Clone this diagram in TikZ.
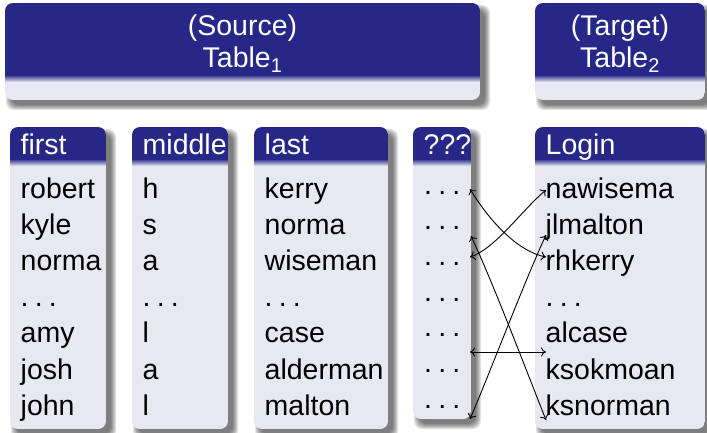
\documentclass[tikz,border=0pt]{standalone}
\usepackage{fontspec}
\setmainfont{Liberation Sans}
\usetikzlibrary{arrows.meta}
\definecolor{bhead}{RGB}{39,39,135}
\definecolor{bbody}{RGB}{232,232,243}
\newcommand\mkshadow[4]{%
  \foreach \e in {0,1,2,3,4,5}{%
    \fill[black,opacity=0.11,rounded corners=8] ({#1+6-\e},{#2+7-\e}) rectangle ({#3+5+\e},{#4+5+\e});
  }}
\newcommand\mkblock[5]{%
  \mkshadow{#1}{#2}{#3}{#4}
  \begin{scope}
    \clip[rounded corners=8] (#1,#2) rectangle (#3,#4);
    \fill[bbody] (#1,#2) rectangle (#3,#4);
    \fill[bhead] (#1,#2) rectangle (#3,#5);
    \shade[top color=bhead!70!bbody, bottom color=bbody] (#1,#5) rectangle (#3,{#5+5});
  \end{scope}}
\newcommand\sdots{.\kern6.2pt.\kern6.2pt.}
\tikzset{
  txt/.style={anchor=base west, inner sep=0pt, font=\fontsize{28.5}{34}\selectfont},
  hdr/.style={txt, text=white},
  ttl/.style={anchor=base, inner sep=0pt, text=white, font=\fontsize{28.5}{34}\selectfont},
  arr/.style={line width=0.9pt, {Computer Modern Rightarrow[length=5pt,width=9pt]}-{Computer Modern Rightarrow[length=5pt,width=9pt]}}
}
\begin{document}
\begin{tikzpicture}[x=1pt,y=-1pt]
\useasboundingbox (0,0) rectangle (707,433);
% top blocks
\mkblock{5}{3}{480}{100}{77}
\mkblock{535}{3}{705}{100}{77}
\node[ttl] (src1) at (242.5,35.5) {(Source)};
\node[ttl] (src2) at (242.5,67.5) {Table\textsubscript{1}};
\node[ttl] (tgt1) at (620,35.5) {(Target)};
\node[ttl] (tgt2) at (620,67.5) {Table\textsubscript{2}};
% columns
\mkblock{10}{127}{106}{429}{161}
\mkblock{132}{127}{228}{429}{161}
\mkblock{254}{127}{388}{429}{161}
\mkblock{413}{127}{471}{419}{161}
\mkblock{535}{127}{705}{429}{161}
\node[hdr] (hfirst) at (20.5,155) {first};
\node[hdr] (hmiddle) at (142.5,155) {middle};
\node[hdr] (hlast) at (264.5,155) {last};
\node[hdr] (hq) at (423.5,155) {???};
\node[hdr] (hlogin) at (545.5,155) {Login};
\foreach \t [count=\i] in {robert,kyle,norma,{\sdots},amy,josh,john}
  \node[txt] (f\i) at (20.5,{198+36.2*(\i-1)}) {\t};
\foreach \t [count=\i] in {h,s,a,{\sdots},l,a,l}
  \node[txt] (m\i) at (142.5,{198+36.2*(\i-1)}) {\t};
\foreach \t [count=\i] in {kerry,norma,wiseman,{\sdots},case,alderman,malton}
  \node[txt] (l\i) at (264.5,{198+36.2*(\i-1)}) {\t};
\foreach \i in {1,...,7}
  \node[txt] (d\i) at (424,{194+35.7*(\i-1)}) {\sdots};
\foreach \t [count=\i] in {nawisema,jlmalton,rhkerry,{\sdots},alcase,ksokmoan,ksnorman}
  \node[txt] (g\i) at (545.5,{198+36.2*(\i-1)}) {\t};
% arrow ends
\coordinate (q1) at (470,189);
\coordinate (q2) at (471,236);
\coordinate (q3) at (470,257);
\coordinate (q5) at (470,352);
\coordinate (q7) at (470,419);
\coordinate (t1) at (546,190);
\coordinate (t2) at (546,235);
\coordinate (t3) at (546,257);
\coordinate (t5) at (546,352);
\coordinate (t7) at (546,420);
\draw[arr] (q1) .. controls (492,225) and (520,252) .. (t3);
\draw[arr] (q3) .. controls (495,249) and (522,210) .. (t1);
\draw[arr] (q2) .. controls (492,280) and (530,380) .. (t7);
\draw[arr] (q7) .. controls (487,380) and (525,280) .. (t2);
\draw[arr] (q5) -- (t5);
\end{tikzpicture}
\end{document}
